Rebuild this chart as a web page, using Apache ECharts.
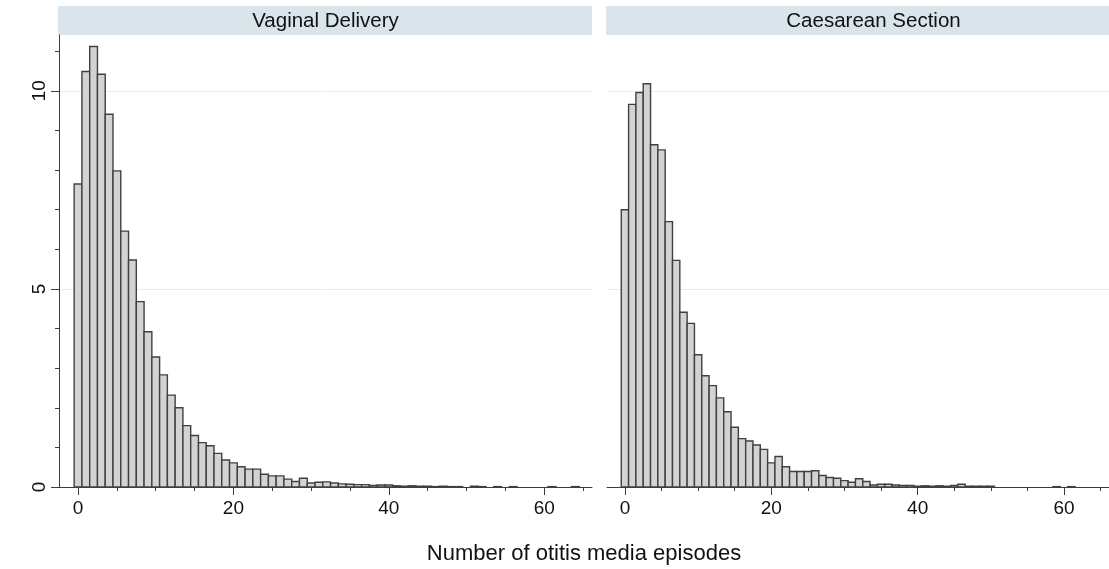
<!DOCTYPE html>
<html>
<head>
<meta charset="utf-8">
<script src="https://cdn.jsdelivr.net/npm/echarts@6/dist/echarts.min.js"></script>
<style>
  html, body { margin: 0; padding: 0; background: #fff; }
  #chart { width: 1109px; height: 569px; }
</style>
</head>
<body>
<div id="chart"></div>
<script>
// Histogram bins (number of otitis media episodes, width 1)
const bins = Array.from({ length: 65 }, (_, i) => i);

// Percent of children per bin, vaginal delivery
const vaginal = [
  7.65, 10.49, 11.12, 10.42, 9.41, 7.98, 6.46, 5.73, 4.68, 3.92,
  3.28, 2.83, 2.32, 2.00, 1.55, 1.30, 1.12, 1.04, 0.85, 0.68,
  0.61, 0.51, 0.45, 0.45, 0.32, 0.28, 0.28, 0.20, 0.14, 0.22,
  0.10, 0.12, 0.13, 0.10, 0.08, 0.07, 0.06, 0.06, 0.04, 0.05,
  0.05, 0.03, 0.02, 0.03, 0.02, 0.02, 0.01, 0.02, 0.01, 0.01,
  0, 0.02, 0.01, 0, 0.01, 0, 0.01, 0, 0, 0,
  0, 0.01, 0, 0, 0.01
];

// Percent of children per bin, caesarean section
const caesarean = [
  7.00, 9.66, 9.96, 10.18, 8.64, 8.51, 6.70, 5.72, 4.41, 4.13,
  3.34, 2.81, 2.56, 2.25, 1.90, 1.51, 1.22, 1.16, 1.06, 0.95,
  0.61, 0.77, 0.51, 0.39, 0.39, 0.39, 0.41, 0.29, 0.24, 0.22,
  0.16, 0.12, 0.21, 0.14, 0.05, 0.07, 0.07, 0.05, 0.04, 0.04,
  0.02, 0.03, 0.02, 0.03, 0.02, 0.04, 0.07, 0.02, 0.02, 0.02,
  0.02, 0, 0, 0, 0, 0, 0, 0, 0, 0.01,
  0, 0.01, 0, 0, 0
];

const panelTitles = ['Vaginal Delivery', 'Caesarean Section'];
const xTitle = 'Number of otitis media episodes';

// Tick positions
const xMajorTicks = [0, 20, 40, 60];
const xMinorTicks = [5, 10, 15, 25, 30, 35, 45, 50, 55, 65];
const yMajorTicks = [0, 5, 10];
const yMinorTicks = [0, 1, 2, 3, 4, 5, 6, 7, 8, 9, 10, 11];

const FONT = "'Liberation Sans', Arial, Helvetica, sans-serif";
const AXIS_COLOR = '#3c3c3c';
const X_MIN = -2.45, X_MAX = 66.15, Y_MAX = 11.41;

const grids = [
  { left: 59, top: 35, width: 533, height: 452 },
  { left: 607, top: 35, width: 533, height: 452 }
];

function xMajor(gi) {
  return {
    type: 'value', gridIndex: gi, min: X_MIN, max: X_MAX, position: 'bottom',
    axisLine: { show: true, onZero: false, lineStyle: { color: AXIS_COLOR, width: 1 } },
    axisTick: { show: true, length: 8, customValues: xMajorTicks, lineStyle: { color: AXIS_COLOR } },
    axisLabel: { show: true, customValues: xMajorTicks, fontSize: 19, fontFamily: FONT, color: '#111', margin: 12 },
    splitLine: { show: false }
  };
}
function xMinor(gi) {
  return {
    type: 'value', gridIndex: gi, min: X_MIN, max: X_MAX, position: 'bottom',
    axisLine: { show: false, onZero: false },
    axisTick: { show: true, length: 4, customValues: xMinorTicks, lineStyle: { color: AXIS_COLOR } },
    axisLabel: { show: false },
    splitLine: { show: false }
  };
}

const gridLine = { show: true, lineStyle: { color: '#e6eeef', width: 1 } };

const yAxes = [
  {
    type: 'value', gridIndex: 0, min: 0, max: Y_MAX, interval: 5, position: 'left',
    axisLine: { show: true, onZero: false, lineStyle: { color: AXIS_COLOR, width: 1 } },
    axisTick: { show: true, length: 8, customValues: yMajorTicks, lineStyle: { color: AXIS_COLOR } },
    axisLabel: { show: true, customValues: yMajorTicks, rotate: 90, fontSize: 19, fontFamily: FONT, color: '#111', margin: 10 },
    splitLine: gridLine
  },
  {
    type: 'value', gridIndex: 0, min: 0, max: Y_MAX, interval: 1, position: 'left',
    axisLine: { show: false, onZero: false },
    axisTick: { show: true, length: 4, customValues: yMinorTicks, lineStyle: { color: AXIS_COLOR } },
    axisLabel: { show: false },
    splitLine: { show: false }
  },
  {
    type: 'value', gridIndex: 1, min: 0, max: Y_MAX, interval: 5, position: 'left',
    axisLine: { show: false, onZero: false },
    axisTick: { show: false, customValues: yMajorTicks },
    axisLabel: { show: false, customValues: yMajorTicks },
    splitLine: gridLine
  }
];

function histRender(params, api) {
  const x = api.value(0);
  const v = api.value(1);
  if (!v) return null;
  const topLeft = api.coord([x - 0.5, v]);
  const bottomRight = api.coord([x + 0.5, 0]);
  return {
    type: 'rect',
    shape: {
      x: topLeft[0], y: topLeft[1],
      width: bottomRight[0] - topLeft[0],
      height: bottomRight[1] - topLeft[1]
    },
    style: { fill: '#d3d3d3', stroke: '#404040', lineWidth: 1.4 }
  };
}

function histSeries(values, xi, yi) {
  return {
    type: 'custom',
    xAxisIndex: xi, yAxisIndex: yi,
    renderItem: histRender,
    encode: { x: 0, y: 1 },
    data: bins.map((b, i) => [b, values[i]]),
    silent: true, z: 3
  };
}

// Panel header strips and the shared x-axis title
const graphics = grids.map((g, i) => ({
  type: 'group',
  children: [
    { type: 'rect', shape: { x: g.left - 1, y: 6, width: g.width + 1, height: 29 }, style: { fill: '#d9e5ea' } },
    {
      type: 'text',
      style: {
        x: g.left + g.width / 2, y: 21, text: panelTitles[i],
        textAlign: 'center', textVerticalAlign: 'middle',
        font: '20.5px ' + FONT, fill: '#111'
      }
    }
  ]
}));
graphics.push({
  type: 'text',
  style: {
    x: 584, y: 554, text: xTitle,
    textAlign: 'center', textVerticalAlign: 'middle',
    font: '22px ' + FONT, fill: '#111'
  }
});

const chart = echarts.init(document.getElementById('chart'), null, { renderer: 'canvas' });
chart.setOption({
  animation: false,
  backgroundColor: '#ffffff',
  grid: grids,
  xAxis: [xMajor(0), xMinor(0), xMajor(1), xMinor(1)],
  yAxis: yAxes,
  series: [histSeries(vaginal, 0, 0), histSeries(caesarean, 2, 2)],
  graphic: graphics
});
</script>
</body>
</html>
